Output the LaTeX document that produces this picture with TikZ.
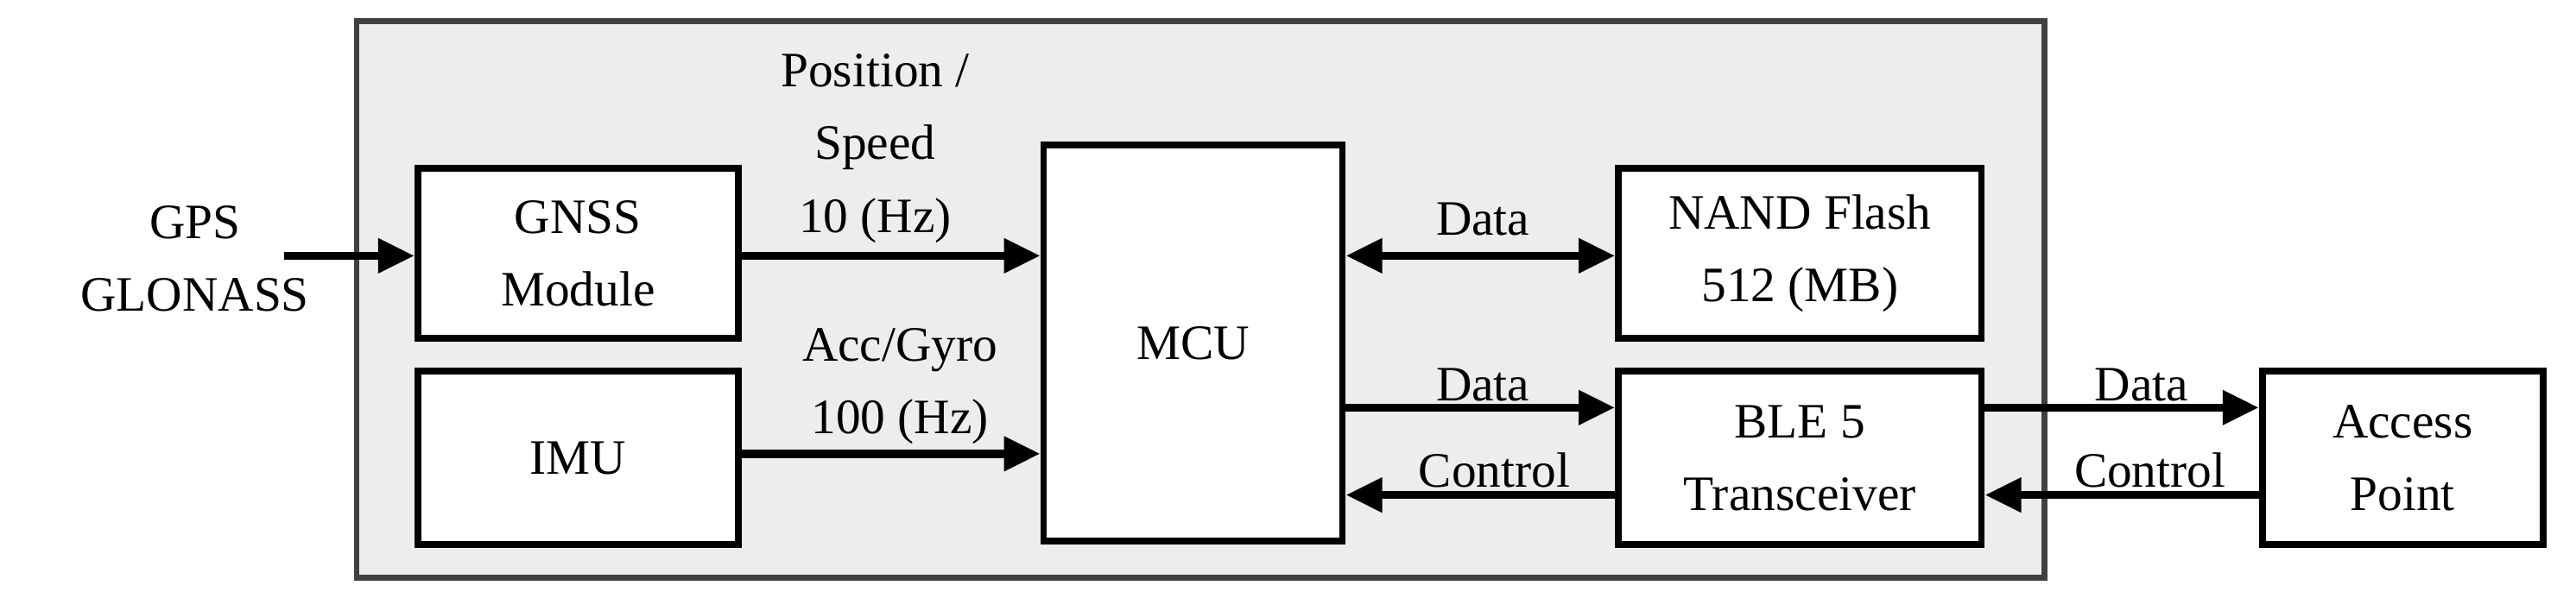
\documentclass[tikz,border=0pt]{standalone}
\usepackage{fontspec}
\setmainfont{Liberation Serif}
\usetikzlibrary{arrows.meta}
\begin{document}
\begin{tikzpicture}[x=0.5pt,y=-0.5pt,
  every node/.style={font=\fontsize{15}{22}\selectfont, align=center, inner sep=0pt},
  box/.style={draw, line width=2pt, fill=white},
  arr/.style={line width=2.5pt, -{Triangle[length=11pt,width=10pt]}},
  darr/.style={line width=2.5pt, {Triangle[length=11pt,width=10pt]}-{Triangle[length=11pt,width=10pt]}}]
\useasboundingbox (0,0) rectangle (1560,362);
\draw[line width=1.8pt, draw=black!75, fill=black!7] (216,13) rectangle (1238,350);
\node[box, minimum width=97pt, minimum height=51.5pt] (gnss) at (350,153.5) {GNSS\\Module};
\node[box, minimum width=97pt, minimum height=52.5pt] (imu) at (350,277.5) {IMU};
\node[box, minimum width=90.5pt, minimum height=120pt] (mcu) at (722.5,208) {MCU};
\node[box, minimum width=110pt, minimum height=51.5pt] (nand) at (1090,153.5) {NAND Flash\\512 (MB)};
\node[box, minimum width=110pt, minimum height=52.5pt] (ble) at (1090,277.5) {BLE 5\\Transceiver};
\node[box, minimum width=85pt, minimum height=52.5pt] (ap) at (1455,277.5) {Access\\Point};
\node (gps) at (118,157) {GPS\\GLONASS};
\coordinate (gpsend) at (172,155);
\draw[arr] (gpsend) -- (gpsend -| gnss.west);
\draw[arr] ([yshift=-0.75pt]gnss.east) -- ([yshift=-0.75pt]gnss.east -| mcu.west);
\node at (530,90) {Position /\\Speed\\10 (Hz)};
\draw[arr] ([yshift=1.25pt]imu.east) -- ([yshift=1.25pt]imu.east -| mcu.west);
\node at (545,234) {Acc/Gyro\\100 (Hz)};
\draw[darr] ([yshift=-0.75pt]mcu.east |- nand.west) -- ([yshift=-0.75pt]nand.west);
\node at (898,133) {Data};
\draw[arr] ([yshift=15.25pt]mcu.east |- ble.west) -- ([yshift=15.25pt]ble.west);
\node at (898,233) {Data};
\draw[arr] ([yshift=-11.25pt]ble.west) -- ([yshift=-11.25pt]mcu.east |- ble.west);
\node at (905,285) {Control};
\draw[arr] ([yshift=15.25pt]ble.east) -- ([yshift=15.25pt]ap.west);
\node at (1297,233) {Data};
\draw[arr] ([yshift=-11.25pt]ap.west) -- ([yshift=-11.25pt]ble.east);
\node at (1302,285) {Control};
\end{tikzpicture}
\end{document}
